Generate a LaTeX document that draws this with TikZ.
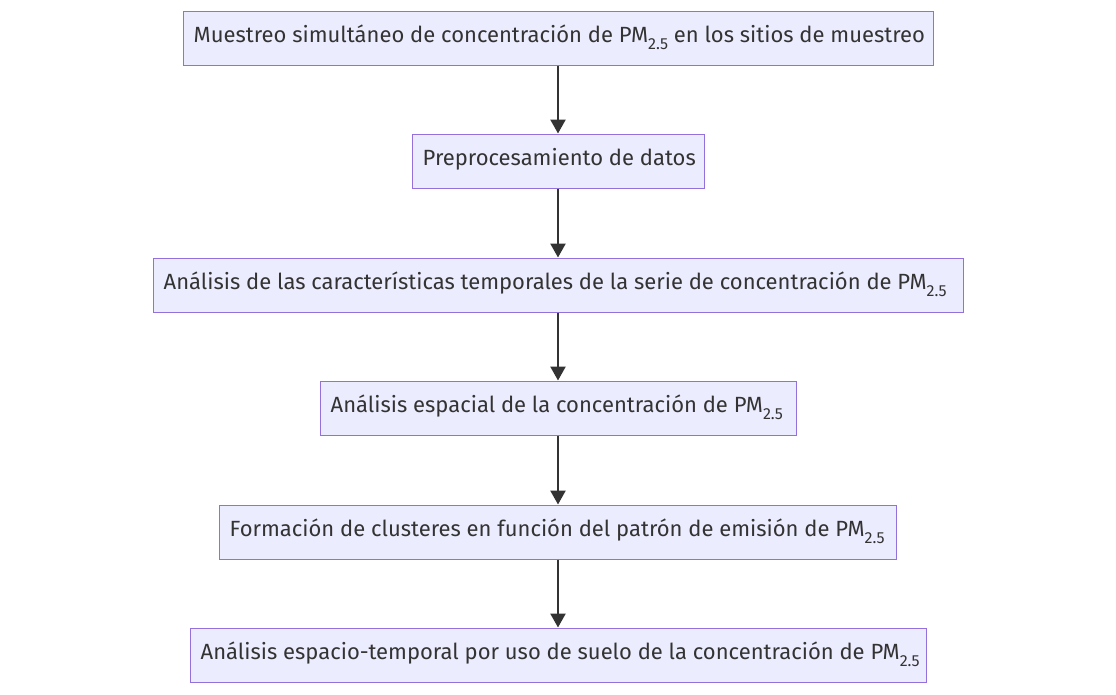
\documentclass[tikz,border=0pt]{standalone}
\usepackage{fontspec}
\setmainfont{Fira Sans}
\usetikzlibrary{arrows.meta}
\definecolor{boxfill}{HTML}{ECECFF}
\definecolor{boxline}{HTML}{9370DB}
\definecolor{ink}{HTML}{333333}
\newcommand{\pmsub}{PM\raisebox{-7pt}{\fontsize{16}{16}\selectfont 2.5}}
\tikzset{
  x=1pt, y=1pt,
  box/.style={draw=boxline, fill=boxfill, line width=1pt, minimum height=54pt, inner sep=0pt, rectangle},
  lbl/.style={anchor=base west, inner sep=0pt, text=ink, font=\fontsize{22}{22}\selectfont},
  flow/.style={draw=ink, line width=2.5pt, -{Triangle[length=14pt,width=15pt]}}
}
\newcommand{\boxtext}[3]{%
  \begin{scope}
    \clip ([xshift=0.5pt,yshift=0.5pt]#1.south west) rectangle ([xshift=-0.5pt,yshift=-0.5pt]#1.north east);
    \node[lbl] (#2) at ([xshift=11pt,yshift=-4.5pt]#1.west) {#3};
  \end{scope}}
\begin{document}
\begin{tikzpicture}
\useasboundingbox (0,0) rectangle (1116,-694);
\node[box, minimum width=750pt] (b1) at (558,-38) {};
\node[box, minimum width=292pt] (b2) at (558,-161) {};
\node[box, minimum width=810pt] (b3) at (558,-285) {};
\node[box, minimum width=476pt] (b4) at (558,-408) {};
\node[box, minimum width=677pt] (b5) at (557.5,-532) {};
\node[box, minimum width=736pt] (b6) at (558,-655) {};
\boxtext{b1}{t1}{Muestreo simultáneo de concentración de \pmsub{} en los sitios de muestreo}
\boxtext{b2}{t2}{Preprocesamiento de datos}
\boxtext{b3}{t3}{Análisis de las características temporales de la serie de concentración de \pmsub}
\boxtext{b4}{t4}{Análisis espacial de la concentración de \pmsub}
\boxtext{b5}{t5}{Formación de clusteres en función del patrón de emisión de \pmsub}
\boxtext{b6}{t6}{Análisis espacio-temporal por uso de suelo de la concentración de \pmsub}
\draw[flow] (b1.south) -- (b2.north);
\draw[flow] (b2.south) -- (b3.north);
\draw[flow] (b3.south) -- (b4.north);
\draw[flow] (b4.south) -- (b5.north -| b4.south);
\draw[flow] (b5.south -| b4.south) -- (b6.north);
\end{tikzpicture}
\end{document}
